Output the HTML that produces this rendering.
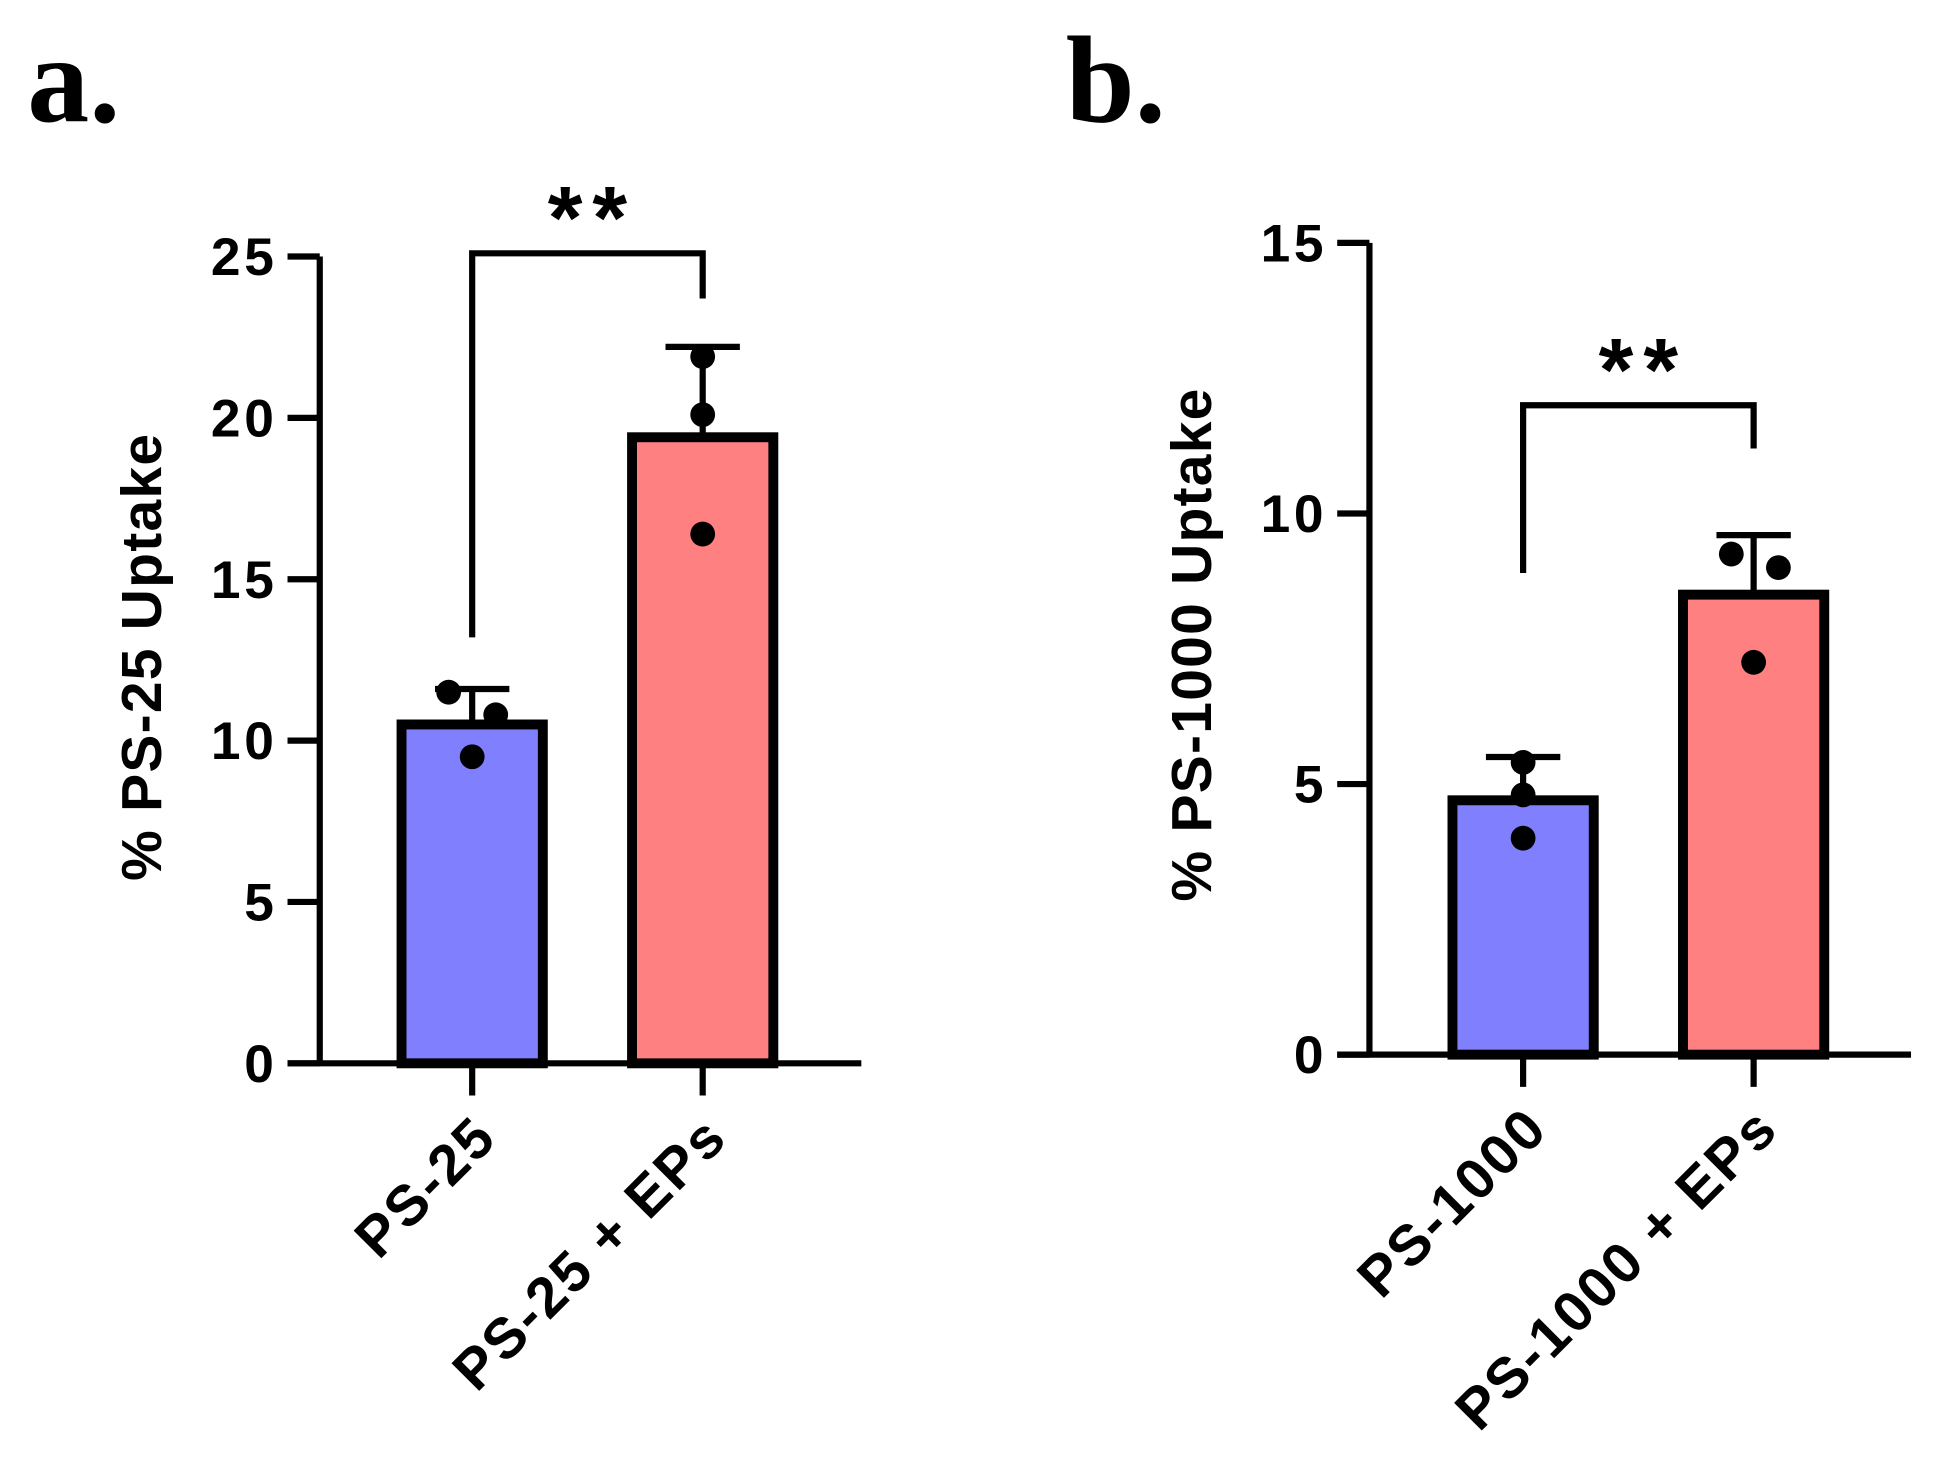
<!DOCTYPE html>
<html><head><meta charset="utf-8"><style>
html,body{margin:0;padding:0;background:#fff;}
svg{display:block;}
text{font-family:"Liberation Sans",sans-serif;font-weight:bold;fill:#000;}
</style></head><body>
<svg id="fig" width="1942" height="1476" viewBox="0 0 1567 1191" preserveAspectRatio="none" xmlns="http://www.w3.org/2000/svg"></svg>
<script>
// Panel a data
const aCategories = ["PS-25", "PS-25 + EPs"];
const aMeans = [10.5, 19.4];
const aErrTop = [11.6, 22.2];
const aPoints = [[11.5, 10.8, 9.5], [21.9, 20.1, 16.4]];
const aTicks = [0, 5, 10, 15, 20, 25];
// Panel b data
const bCategories = ["PS-1000", "PS-1000 + EPs"];
const bMeans = [4.7, 8.5];
const bErrTop = [5.5, 9.6];
const bPoints = [[5.4, 4.8, 4.0], [9.25, 9.0, 7.25]];
const bTicks = [0, 5, 10, 15];

const NS = "http://www.w3.org/2000/svg";
const svg = document.getElementById("fig");
function mk(tag, attrs, parent) {
  const e = document.createElementNS(NS, tag);
  for (const k in attrs) e.setAttribute(k, attrs[k]);
  (parent || svg).appendChild(e);
  return e;
}

function panel(cfg) {
  const g = mk("g", {});
  
  
  const y = v => cfg.y0 - (v / cfg.max) * (cfg.y0 - cfg.yTop);
  const ax = mk("path", {d: `M${cfg.axX} ${y(cfg.max)} V${cfg.y0} M${cfg.axX - 26} ${cfg.y0} H${cfg.xEnd}`, stroke: "#000", "stroke-width": 5, fill: "none"}, g);
  
  
  cfg.ticks.forEach(t => {
    const tl = mk("line", {x1: cfg.axX - 26, x2: cfg.axX, y1: y(t), y2: y(t), stroke: "#000", "stroke-width": 5}, g);
    
    
    const tx = mk("text", {x: cfg.axX - 34, y: y(t) + 15, "text-anchor": "end", "font-size": 43, "letter-spacing": 3}, g);
    tx.textContent = t;
    
    
  });
  const colors = ["#8080ff", "#ff8080"];
  cfg.cats.forEach((c, i) => {
    const cx = cfg.centers[i];
    const w = 114;
    const top = y(cfg.means[i]);
    const eb = mk("path", {d: `M${cx} ${top} V${y(cfg.err[i])} M${cx - 30} ${y(cfg.err[i])} H${cx + 30}`, stroke: "#000", "stroke-width": 5, fill: "none"}, g);
    
    
    const r = mk("rect", {x: cx - w / 2, y: top, width: w, height: cfg.y0 - top, fill: colors[i], stroke: "#000", "stroke-width": 8}, g);
    
    
    cfg.pts[i].forEach((p, j) => {
      const off = cfg.ptOff[i][j];
      const d = mk("circle", {cx: cx + off, cy: y(p), r: 10, fill: "#000"}, g);
      
      
    });
    const xt = mk("line", {x1: cx, x2: cx, y1: cfg.y0, y2: cfg.y0 + 26, stroke: "#000", "stroke-width": 5}, g);
    
    
    const lx = cx + 22, ly = cfg.y0 + 62;
    const lab = mk("text", {x: lx, y: ly, "text-anchor": "end", "font-size": 46, "letter-spacing": 2, transform: `rotate(-45 ${lx} ${ly})`}, g);
    lab.textContent = c;
    
    
  });
  const br = cfg.bracket;
  const bp = mk("path", {d: `M${cfg.centers[0]} ${y(br[0])} V${y(br[2])} H${cfg.centers[1]} V${y(br[1])}`, stroke: "#000", "stroke-width": 5, fill: "none"}, g);
  
  
  const st = mk("text", {x: (cfg.centers[0] + cfg.centers[1]) / 2 + 4, y: y(br[2]) - 4, "text-anchor": "middle", "font-size": 72, "letter-spacing": 8}, g);
  st.textContent = "**";
  
  
  const yl = mk("text", {x: cfg.ylx, y: cfg.yly, "text-anchor": "middle", "font-size": 46, "letter-spacing": 1, transform: `rotate(-90 ${cfg.ylx} ${cfg.yly})`}, g);
  yl.textContent = cfg.ylabel;
  
  
  const pl = mk("text", {x: cfg.plx, y: 98, "font-size": 100, style: "font-family:'Liberation Serif',serif;font-weight:bold"}, g);
  pl.textContent = cfg.letter;
  
  
}

panel({name: "panel-a", axX: 258, y0: 858, yTop: 207, max: 25, xEnd: 695, ticks: aTicks,
  cats: aCategories, means: aMeans, err: aErrTop, pts: aPoints, centers: [381, 567],
  ptOff: [[-19, 19, 0], [0, 0, 0]], bracket: [13.2, 23.7, 25.1],
  ylabel: "%  PS-25 Uptake", ylx: 130, yly: 530, letter: "a.", plx: 22});
panel({name: "panel-b", axX: 1105, y0: 851, yTop: 196, max: 15, xEnd: 1542, ticks: bTicks,
  cats: bCategories, means: bMeans, err: bErrTop, pts: bPoints, centers: [1229, 1415],
  ptOff: [[0, 0, 0], [-18, 20, 0]], bracket: [8.9, 11.2, 12.0],
  ylabel: "% PS-1000 Uptake", ylx: 977, yly: 520, letter: "b.", plx: 860});
</script>
</body></html>
